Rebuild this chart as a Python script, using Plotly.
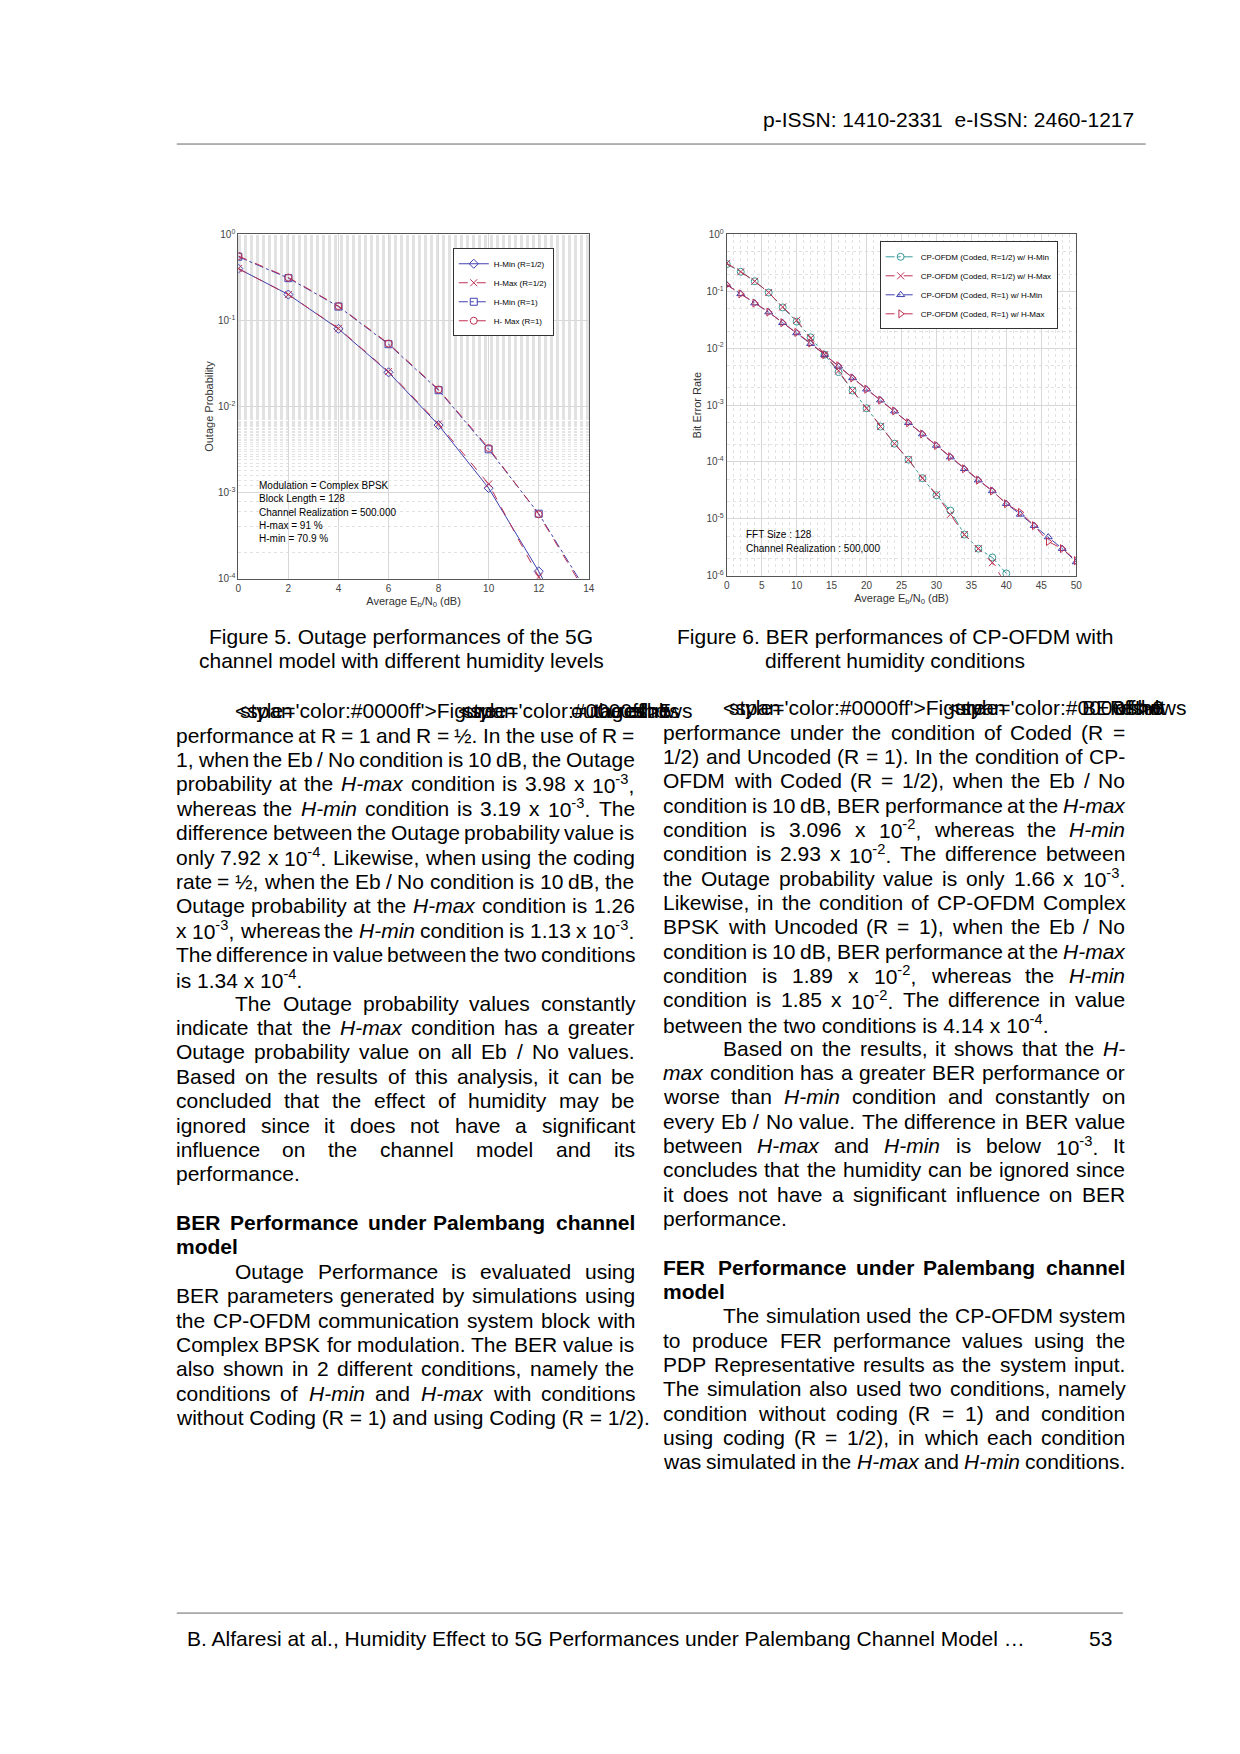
import re
import plotly.graph_objects as go

W, H = 1240, 1754

# ----- Figure 5 data (outage probability) -----
snr5 = [0, 2, 4, 6, 8, 10, 12, 14]
hmin_r12 = [0.40, 0.20, 0.080, 0.025, 6.1e-3, 1.13e-3, 1.22e-4, 1.0e-5]
hmax_r12 = [0.40, 0.20, 0.081, 0.0255, 6.3e-3, 1.26e-3, 1.05e-4, 0.9e-5]
hmin_r1 = [0.55, 0.31, 0.145, 0.053, 0.0155, 3.19e-3, 5.7e-4, 6.5e-5]
hmax_r1 = [0.56, 0.315, 0.147, 0.054, 0.0158, 3.3e-3, 5.6e-4, 6.0e-5]

# ----- Figure 6 data (bit error rate) -----
snr6 = list(range(0, 51, 2))
coded_hmin = [0.30, 0.22, 0.15, 0.095, 0.052, 0.0293, 0.0155, 0.0077, 0.0038, 0.0018,
              8.8e-4, 4.2e-4, 2.1e-4, 1.1e-4, 5.2e-5, 2.6e-5, 1.4e-5, 5.3e-6, 3.0e-6,
              2.1e-6, 1.1e-6]
coded_hmax = [0.31, 0.22, 0.15, 0.095, 0.053, 0.03096, 0.0150, 0.0077, 0.0040, 0.0018,
              8.8e-4, 4.2e-4, 2.1e-4, 1.1e-4, 5.2e-5, 2.7e-5, 1.2e-5, 5.3e-6, 3.0e-6,
              1.7e-6, 7e-7]
unc_hmin = [0.13, 0.09, 0.062, 0.043, 0.028, 0.0185, 0.0120, 0.0077, 0.0048, 0.0030,
            0.0019, 0.00122, 7.8e-4, 4.9e-4, 3.1e-4, 1.95e-4, 1.22e-4, 7.6e-5, 4.8e-5,
            3.1e-5, 1.85e-5, 1.2e-5, 7.6e-6, 4.8e-6, 3.0e-6, 1.75e-6]
unc_hmax = [0.13, 0.09, 0.062, 0.043, 0.028, 0.0189, 0.0123, 0.0077, 0.0049, 0.0030,
            0.0019, 0.00122, 7.9e-4, 4.9e-4, 3.1e-4, 1.95e-4, 1.24e-4, 7.6e-5, 4.8e-5,
            3.1e-5, 1.85e-5, 1.3e-5, 7.6e-6, 4.0e-6, 3.0e-6, 1.85e-6]

BLUE, RED, CYAN = "#4040b0", "#c03050", "#3a9a9a"

fig = go.Figure()

def add(x, y, name, color, dash, symbol, xa, ya, legend):
    fig.add_trace(go.Scatter(
        x=x, y=y, name=name, mode="lines+markers", xaxis=xa, yaxis=ya, legend=legend,
        line=dict(color=color, width=1, dash=dash),
        marker=dict(symbol=symbol, size=7, color=color, line=dict(color=color, width=1))))

add(snr5, hmin_r12, "H-Min (R=1/2)", BLUE, "solid", "diamond-open", "x", "y", "legend")
add(snr5, hmax_r12, "H-Max (R=1/2)", RED, "dash", "x-thin-open", "x", "y", "legend")
add(snr5, hmin_r1, "H-Min (R=1)", BLUE, "dashdot", "square-open", "x", "y", "legend")
add(snr5, hmax_r1, "H- Max (R=1)", RED, "dash", "circle-open", "x", "y", "legend")

add(snr6[:len(coded_hmin)], coded_hmin, "CP-OFDM (Coded, R=1/2) w/ H-Min", CYAN, "dashdot", "circle-open", "x2", "y2", "legend2")
add(snr6[:len(coded_hmax)], coded_hmax, "CP-OFDM (Coded, R=1/2) w/ H-Max", RED, "dash", "x-thin-open", "x2", "y2", "legend2")
add(snr6, unc_hmin, "CP-OFDM (Coded, R=1) w/ H-Min", BLUE, "dashdot", "triangle-up-open", "x2", "y2", "legend2")
add(snr6, unc_hmax, "CP-OFDM (Coded, R=1) w/ H-Max", RED, "dash", "triangle-right-open", "x2", "y2", "legend2")

def px(v): return v / W
def py(v): return 1 - v / H

AX = dict(showline=True, linecolor="#555", mirror=True, ticks="", gridcolor="#d8d8d8",
          tickfont=dict(size=10, color="#444", family="Liberation Sans"),
          title_font=dict(size=11, color="#333", family="Liberation Sans"), zeroline=False)
MINOR = dict(showgrid=True, gridcolor="#e2e2e2", griddash="dot")

def ylog(lo, hi):
    vals = [10.0 ** k for k in range(lo, hi + 1)]
    txt = ["10<sup>%d</sup>" % k for k in range(lo, hi + 1)]
    return dict(type="log", range=[lo, hi], tickvals=vals, ticktext=txt, minor=MINOR)

xt = "Average E<sub>b</sub>/N<sub>0</sub> (dB)"
fig.update_layout(
    width=W, height=H, margin=dict(l=0, r=0, t=0, b=0),
    paper_bgcolor="white", plot_bgcolor="white",
    font=dict(family="Liberation Sans", color="black"),
    xaxis=dict(AX, domain=[px(229), px(582)], range=[0, 14], dtick=2,
               title=dict(text=xt, standoff=4), anchor="y"),
    yaxis=dict(AX, domain=[py(568), py(221)], anchor="x",
               title=dict(text="Outage Probability", standoff=2), **ylog(-4, 0)),
    xaxis2=dict(AX, domain=[px(721), px(1073)], range=[0, 50], dtick=5,
                title=dict(text=xt, standoff=4), anchor="y2", minor=MINOR),
    yaxis2=dict(AX, domain=[py(565), py(221)], anchor="x2",
                title=dict(text="Bit Error Rate", standoff=2), **ylog(-6, 0)),
    legend=dict(x=px(445), y=py(235), xanchor="left", yanchor="top", bgcolor="white",
                bordercolor="#333", borderwidth=1, font=dict(size=8), tracegroupgap=0,
                itemwidth=30),
    legend2=dict(x=px(875), y=py(228), xanchor="left", yanchor="top", bgcolor="white",
                 bordercolor="#333", borderwidth=1, font=dict(size=8), itemwidth=30),
)

ann = []
def txt(x, y, s, size=21, xanchor="left", color="black"):
    ann.append(dict(x=px(x), y=py(y), xref="paper", yref="paper", text=s, showarrow=False,
                    xanchor=xanchor, yanchor="middle", align="left", borderpad=0,
                    font=dict(size=size, color=color, family="Liberation Sans")))

# Arial / Liberation Sans advance widths (per 1000 em)
CW = dict(zip("0123456789", [556] * 10))
CW.update({" ": 278, ",": 278, ".": 278, "/": 278, "-": 333, "(": 333, ")": 333,
           "=": 584, "½": 834, ":": 278, "…": 1000})
CW.update(dict(zip("ABCDEFGHIJKLMNOPQRSTUVWXYZ",
                   [667, 667, 722, 722, 667, 611, 778, 722, 278, 500, 667, 556, 833, 722,
                    778, 667, 778, 722, 667, 611, 722, 667, 944, 667, 667, 611])))
CW.update(dict(zip("abcdefghijklmnopqrstuvwxyz",
                   [556, 556, 500, 556, 556, 278, 556, 556, 222, 222, 500, 222, 833, 556,
                    556, 556, 556, 333, 500, 278, 556, 500, 722, 500, 500, 500])))

def width(word, size):
    w = 0.0
    for part, sup in re.findall(r"<sup>(.*?)</sup>|([^<]+|<[^>]*>)", word) and []:
        pass
    sups = re.findall(r"<sup>(.*?)</sup>", word)
    plain = re.sub(r"<sup>.*?</sup>", "", word)
    plain = re.sub(r"<[^>]*>", "", plain)
    w += sum(CW.get(c, 556) for c in plain)
    w += 0.7 * sum(CW.get(c, 556) for s in sups for c in s)
    if "<b>" in word:
        w *= 1.08
    return w * size / 1000.0

def para_line(x0, x1, y, s, justify, size=21):
    words = s.split(" ")
    words = [w for w in words if w]
    if not justify or len(words) < 2:
        txt(x0, y, s, size)
        return
    ws = [width(w, size) for w in words]
    gap = (x1 - x0 - sum(ws)) / (len(words) - 1)
    x = x0
    for w, wd in zip(words, ws):
        txt(x, y, w, size)
        x += wd + gap

# chart inner notes
for i, s in enumerate(["Modulation = Complex BPSK", "Block Length = 128",
                       "Channel Realization = 500.000", "H-max = 91 %", "H-min = 70.9 %"]):
    txt(249, 474 + i * 13.4, s, size=10)
for i, s in enumerate(["FFT Size : 128", "Channel Realization : 500,000"]):
    txt(739, 523 + i * 14, s, size=10)

# header / footer
txt(1132, 105, "p-ISSN: 1410-2331  e-ISSN: 2460-1217", xanchor="right")
txt(176, 1636, "B. Alfaresi at al., Humidity Effect to 5G Performances under Palembang Channel Model …")
txt(1085, 1636, "53")

# captions
txt(393, 626, "Figure 5. Outage performances of the 5G", xanchor="center")
txt(393, 650, "channel model with different humidity levels", xanchor="center")
txt(890, 626, "Figure 6. BER performances of CP-OFDM with", xanchor="center")
txt(890, 650, "different humidity conditions", xanchor="center")

HM, HN = "<i>H-max</i>", "<i>H-min</i>"
def B(s): return "<span style='color:#0000ff'>%s</span>" % s
# (indent, justified, text)
left = [
    (1, 1, B("Figure") + " " + B("5") + " shows the results of the outage"),
    (0, 1, "performance at R = 1 and R = ½. In the use of R ="),
    (0, 1, "1, when the Eb / No condition is 10 dB, the Outage"),
    (0, 1, "probability at the " + HM + " condition is 3.98 x 10<sup>-3</sup>,"),
    (0, 1, "whereas the " + HN + " condition is 3.19 x 10<sup>-3</sup>. The"),
    (0, 1, "difference between the Outage probability value is"),
    (0, 1, "only 7.92 x 10<sup>-4</sup>. Likewise, when using the coding"),
    (0, 1, "rate = ½,  when the Eb / No condition is 10 dB, the"),
    (0, 1, "Outage probability at the " + HM + " condition is 1.26"),
    (0, 1, "x 10<sup>-3</sup>, whereas the " + HN + " condition is 1.13 x 10<sup>-3</sup>."),
    (0, 1, "The difference in value between the two conditions"),
    (0, 0, "is 1.34 x 10<sup>-4</sup>."),
    (1, 1, "The Outage probability values constantly"),
    (0, 1, "indicate that the " + HM + " condition has a greater"),
    (0, 1, "Outage probability value on all Eb / No values."),
    (0, 1, "Based on the results of this analysis, it can be"),
    (0, 1, "concluded that the effect of humidity may be"),
    (0, 1, "ignored since it does not have a significant"),
    (0, 1, "influence on the channel model and its"),
    (0, 0, "performance."),
    (0, 0, ""),
    (0, 1, "<b>BER</b> <b>Performance</b> <b>under</b> <b>Palembang</b> <b>channel</b>"),
    (0, 0, "<b>model</b>"),
    (1, 1, "Outage Performance is evaluated using"),
    (0, 1, "BER parameters generated by simulations using"),
    (0, 1, "the CP-OFDM communication system block with"),
    (0, 1, "Complex BPSK for modulation. The BER value is"),
    (0, 1, "also shown in 2 different conditions, namely the"),
    (0, 1, "conditions of " + HN + " and " + HM + " with conditions"),
    (0, 0, "without Coding (R = 1) and using Coding (R = 1/2)."),
]
right = [
    (1, 1, B("Figure") + " " + B("6") + " shows the result of BER"),
    (0, 1, "performance under the condition of Coded (R ="),
    (0, 1, "1/2) and Uncoded (R = 1). In the condition of CP-"),
    (0, 1, "OFDM with Coded (R = 1/2), when the Eb / No"),
    (0, 1, "condition is 10 dB, BER performance at the " + HM),
    (0, 1, "condition is 3.096 x 10<sup>-2</sup>, whereas the " + HN),
    (0, 1, "condition is 2.93 x 10<sup>-2</sup>. The difference between"),
    (0, 1, "the Outage probability value is only 1.66 x 10<sup>-3</sup>."),
    (0, 1, "Likewise, in the condition of CP-OFDM Complex"),
    (0, 1, "BPSK with Uncoded (R = 1), when the Eb / No"),
    (0, 1, "condition is 10 dB, BER performance at the " + HM),
    (0, 1, "condition is 1.89 x 10<sup>-2</sup>, whereas the " + HN),
    (0, 1, "condition is 1.85 x 10<sup>-2</sup>. The difference in value"),
    (0, 0, "between the two conditions is 4.14 x 10<sup>-4</sup>."),
    (1, 1, "Based on the results, it shows that the <i>H-</i>"),
    (0, 1, "<i>max</i> condition has a greater BER performance or"),
    (0, 1, "worse than " + HN + " condition and constantly on"),
    (0, 1, "every Eb / No value. The difference in BER value"),
    (0, 1, "between " + HM + " and " + HN + " is below 10<sup>-3</sup>. It"),
    (0, 1, "concludes that the humidity can be ignored since"),
    (0, 1, "it does not have a significant influence on BER"),
    (0, 0, "performance."),
    (0, 0, ""),
    (0, 1, "<b>FER</b> <b>Performance</b> <b>under</b> <b>Palembang</b> <b>channel</b>"),
    (0, 0, "<b>model</b>"),
    (1, 1, "The simulation used the CP-OFDM system"),
    (0, 1, "to produce FER performance values using the"),
    (0, 1, "PDP Representative results as the system input."),
    (0, 1, "The simulation also used two conditions, namely"),
    (0, 1, "condition without coding (R = 1) and condition"),
    (0, 1, "using coding (R = 1/2), in which each condition"),
    (0, 1, "was simulated in the " + HM + " and " + HN + " conditions."),
]
for i, (ind, j, s) in enumerate(left):
    if s:
        para_line(165 + ind * 60, 627, 701 + i * 24.55, s, j)
for i, (ind, j, s) in enumerate(right):
    if s:
        para_line(656 + ind * 60, 1121, 698 + i * 24.5, s, j)

fig.update_layout(annotations=ann, shapes=[
    dict(type="line", xref="paper", yref="paper", x0=px(167), x1=px(1143), y0=py(130), y1=py(130),
         line=dict(color="#666", width=1)),
    dict(type="line", xref="paper", yref="paper", x0=px(167), x1=px(1120), y0=py(1610), y1=py(1610),
         line=dict(color="#666", width=1)),
])

fig.write_html("out.html")
